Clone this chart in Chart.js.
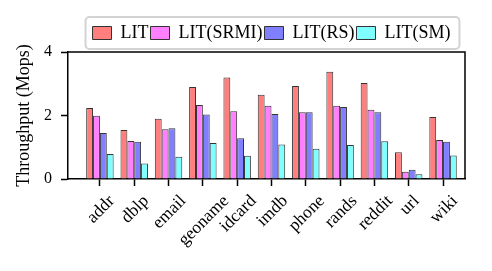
<!DOCTYPE html>
<html><head><meta charset="utf-8">
<script src="https://cdn.jsdelivr.net/npm/chart.js@4/dist/chart.umd.min.js"></script>
<style>html,body{margin:0;padding:0;background:#fff;}</style>
</head><body>
<canvas id="c" width="492" height="271"></canvas>
<script>
const categories = ['addr','dblp','email','geoname','idcard','imdb','phone','rands','reddit','url','wiki'];
const seriesNames = ['LIT','LIT(SRMI)','LIT(RS)','LIT(SM)'];
const litValues  = [2.24,1.54,1.90,2.90,3.20,2.65,2.93,3.38,3.02,0.84,1.95];
const srmiValues = [1.99,1.20,1.57,2.33,2.13,2.31,2.10,2.31,2.18,0.23,1.23];
const rsValues   = [1.45,1.17,1.60,2.03,1.28,2.05,2.10,2.27,2.10,0.29,1.17];
const smValues   = [0.79,0.49,0.70,1.13,0.73,1.09,0.95,1.07,1.19,0.15,0.74];
const yTickValues = [0,2,4];
const yTitle = 'Throughput (Mops)';
const seriesColors = ['#ff7f7f','#ff7fff','#7f7fff','#7fffff'];

const FONT = 'Liberation Serif';
const allSeries = [litValues, srmiValues, rsValues, smValues];

const datasets = allSeries.map((vals, s) => ({
  label: seriesNames[s],
  data: vals.map((v, i) => ({x: i, y: v})),
  backgroundColor: seriesColors[s],
  borderColor: '#333333',
  borderWidth: 1,
  categoryPercentage: 0.8,
  barPercentage: 1.0
}));

const LEGEND_SHIFT = 5;

const framePlugin = {
  id: 'frame',
  afterLayout(chart) {
    const lg = chart.legend;
    if (lg) {
      lg.left += LEGEND_SHIFT;
      lg.right += LEGEND_SHIFT;
      (lg.legendHitBoxes || []).forEach(h => { h.left += LEGEND_SHIFT; });
    }
  },
  beforeDraw(chart) {
    // centre each rotated x label's bounding box on its tick
    const xs = chart.scales.x;
    const items = xs.getLabelItems(chart.chartArea);
    const ctx = chart.ctx;
    items.forEach(it => {
      if (it._shifted) return;
      ctx.save();
      ctx.font = it.font.string;
      const w = ctx.measureText(it.label).width;
      ctx.restore();
      it.options.translation[0] += 0.354 * w + 1;
      it.options.translation[1] += 3;
      it._shifted = true;
    });
  },
  afterDraw(chart) {
    const ctx = chart.ctx;
    const {left, right, top, bottom} = chart.chartArea;
    ctx.save();
    ctx.strokeStyle = '#000';
    ctx.lineWidth = 1.5;
    ctx.beginPath();
    ctx.moveTo(left, top);
    ctx.lineTo(right, top);
    ctx.lineTo(right, bottom);
    ctx.stroke();
    const lg = chart.legend;
    if (lg && lg.legendHitBoxes && lg.legendHitBoxes.length) {
      const hb = lg.legendHitBoxes;
      let l = Infinity, r = -Infinity, t = Infinity, b = -Infinity;
      hb.forEach(h => { l = Math.min(l, h.left); r = Math.max(r, h.left + h.width); t = Math.min(t, h.top); b = Math.max(b, h.top + h.height); });
      const x0 = l - 7, x1 = r + 9, y0 = t - 7, y1 = b + 7;
      ctx.strokeStyle = '#d3d3d3';
      ctx.lineWidth = 2;
      ctx.beginPath();
      ctx.roundRect(x0, y0, x1 - x0, y1 - y0, 4);
      ctx.stroke();
    }
    ctx.restore();
  }
};

new Chart(document.getElementById('c'), {
  type: 'bar',
  data: { datasets },
  options: {
    responsive: false,
    animation: false,
    devicePixelRatio: 1,
    layout: { padding: { top: 22, left: 0, right: 27, bottom: 0 } },
    plugins: {
      legend: {
        position: 'top',
        fullSize: false,
        align: 'center',
        labels: {
          font: { family: FONT, size: 18 },
          color: '#000',
          boxWidth: 19,
          boxHeight: 13,
          padding: 2
        }
      },
      tooltip: { enabled: false }
    },
    scales: {
      x: {
        type: 'linear',
        min: -0.93,
        max: 10.64,
        offset: false,
        afterBuildTicks: (scale) => { scale.ticks = categories.map((c, i) => ({ value: i })); },
        afterFit: (scale) => { scale.height = 92; },
        grid: { display: true, drawOnChartArea: false, drawTicks: true, tickLength: 7, tickWidth: 1.5, tickColor: '#000', offset: false },
        border: { display: true, color: '#000', width: 1.5 },
        ticks: {
          autoSkip: false,
          maxRotation: 45,
          minRotation: 45,
          padding: 2,
          color: '#000',
          font: { family: FONT, size: 17.5 },
          callback: (v) => categories[v] !== undefined ? categories[v] : ''
        }
      },
      y: {
        min: 0,
        max: 4,
        afterBuildTicks: (scale) => { scale.ticks = yTickValues.map(v => ({ value: v })); },
        afterFit: (scale) => { scale.width = 68; },
        grid: { display: true, drawOnChartArea: false, drawTicks: true, tickLength: 7, tickWidth: 1.5, tickColor: '#000' },
        border: { display: true, color: '#000', width: 1.5 },
        ticks: { color: '#000', padding: 9, font: { family: FONT, size: 16 } },
        title: { display: true, text: yTitle, color: '#000', font: { family: FONT, size: 18 }, padding: { top: 13, bottom: 0 } }
      }
    }
  },
  plugins: [framePlugin]
});
</script>
</body></html>
